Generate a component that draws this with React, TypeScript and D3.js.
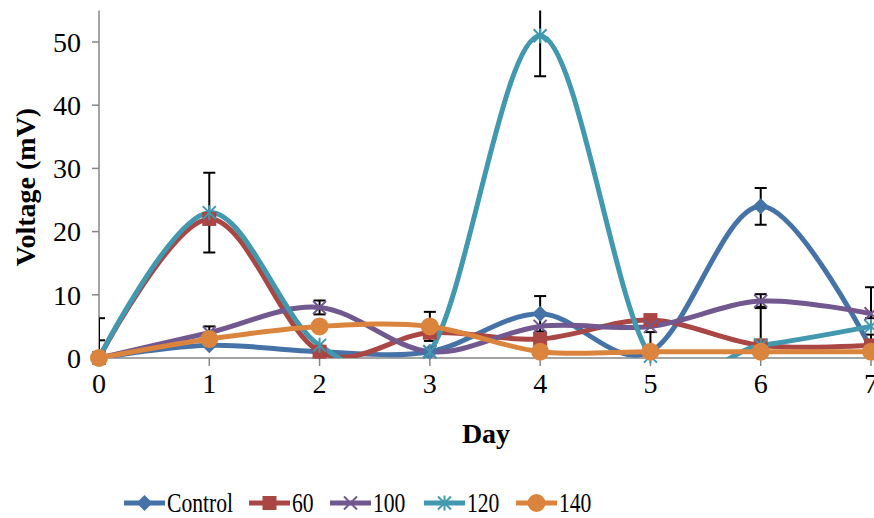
import React from "react";
import * as d3 from "d3";

const days = [0, 1, 2, 3, 4, 5, 6, 7];
const seriesNames = ["Control", "60", "100", "120", "140"];
const controlValues = [0, 2, 1, 1, 7, 1, 24, 1.5];
const v60Values = [0, 22, 1, 4, 3, 6, 2, 2];
const v100Values = [0, 4, 8, 1, 5, 5, 9, 7];
const v120Values = [0, 23, 2, 1, 51, 0.3, 2, 5];
const v140Values = [0, 3, 5, 5, 1, 1, 1, 1];
const controlErr = [6.3, 0, 0, 0, 2.8, 3.1, 2.9, 0];
const v60Err = [2.8, 0, 0, 0, 0, 0, 6.1, 0];
const v100Err = [0, 1, 1.1, 0, 0, 0, 1.1, 4.2];
const v120Err = [0, 6.3, 0, 0, 6.4, 0, 0, 1.3];
const v140Err = [0, 0, 0, 2.3, 0, 0, 0, 0];
const yTicks = [0, 10, 20, 30, 40, 50];
const colors = ["#4572A7", "#AA4643", "#71588F", "#4198AF", "#DB843D"];
const markerTypes = ["diamond", "square", "x", "star", "circle"];

const allValues = [controlValues, v60Values, v100Values, v120Values, v140Values];
const allErr = [controlErr, v60Err, v100Err, v120Err, v140Err];

const W = 874;
const H = 518;
const left = 99;
const x = d3.scaleLinear().domain([0, 7]).range([left, 871]);
const y = d3.scaleLinear().domain([0, 50]).range([358, 42]);
const plotTop = y(55);
const plotBottom = y(0);

function Marker({ type, cx, cy, color }: { type: string; cx: number; cy: number; color: string }) {
  if (type === "diamond") {
    const s = 8;
    return <path d={`M${cx},${cy - s}L${cx + s},${cy}L${cx},${cy + s}L${cx - s},${cy}Z`} fill={color} />;
  }
  if (type === "square") {
    const s = 7;
    return <rect x={cx - s} y={cy - s} width={2 * s} height={2 * s} fill={color} />;
  }
  if (type === "x") {
    const s = 6.5;
    return (
      <path d={`M${cx - s},${cy - s}L${cx + s},${cy + s}M${cx - s},${cy + s}L${cx + s},${cy - s}`} stroke={color} strokeWidth={2} />
    );
  }
  if (type === "star") {
    const s = 6.5;
    return (
      <path
        d={`M${cx - s},${cy - s}L${cx + s},${cy + s}M${cx - s},${cy + s}L${cx + s},${cy - s}M${cx},${cy - s - 1}L${cx},${cy + s + 1}`}
        stroke={color}
        strokeWidth={2}
      />
    );
  }
  return <circle cx={cx} cy={cy} r={9} fill={color} />;
}

export default function App() {
  const line = d3
    .line<number>()
    .x((_, i) => x(days[i]))
    .y((d) => y(d))
    .curve(d3.curveCardinal.tension(0));

  const font = "'Liberation Serif', 'Times New Roman', serif";

  return (
    <svg width={W} height={H} style={{ position: "absolute", left: 0, top: 0, background: "#fff" }} fontFamily={font}>
      <defs>
        <clipPath id="plot">
          <rect x={left} y={plotTop} width={W - left} height={plotBottom - plotTop} />
        </clipPath>
      </defs>
      {/* axes */}
      <line x1={left} x2={left} y1={plotTop} y2={plotBottom} stroke="#868686" strokeWidth={1.5} />
      <line x1={left} x2={W} y1={plotBottom} y2={plotBottom} stroke="#868686" strokeWidth={1.5} />
      {yTicks.map((t) => (
        <g key={t}>
          <line x1={left - 7} x2={left} y1={y(t)} y2={y(t)} stroke="#868686" strokeWidth={1.5} />
          <text x={81} y={y(t)} dy="0.35em" textAnchor="end" fontSize={28}>
            {t}
          </text>
        </g>
      ))}
      {days.map((d) => (
        <g key={d}>
          <line x1={x(d)} x2={x(d)} y1={plotBottom} y2={plotBottom + 8} stroke="#868686" strokeWidth={1.5} />
          <text x={x(d)} y={393} textAnchor="middle" fontSize={28}>
            {d}
          </text>
        </g>
      ))}
      <text x={486} y={443} textAnchor="middle" fontSize={28} fontWeight="bold">
        Day
      </text>
      <text
        transform={`translate(35,187) rotate(-90)`}
        textAnchor="middle"
        fontSize={28}
        fontWeight="bold"
      >
        Voltage (mV)
      </text>
      {/* error bars */}
      <g clipPath="url(#plot)">
        {allErr.map((errs, si) =>
          errs.map((e, i) => {
            if (!e) return null;
            const v = allValues[si][i];
            const cx = x(days[i]);
            const y1 = y(v + e);
            const y2 = y(v - e);
            return (
              <g key={`${si}-${i}`} stroke="#000" strokeWidth={2}>
                <line x1={cx} x2={cx} y1={y1} y2={y2} />
                <line x1={cx - 6} x2={cx + 6} y1={y1} y2={y1} />
                <line x1={cx - 6} x2={cx + 6} y1={y2} y2={y2} />
              </g>
            );
          })
        )}
      </g>
      {/* lines */}
      <g clipPath="url(#plot)">
        {allValues.map((vals, si) => (
          <path key={si} d={line(vals) || ""} fill="none" stroke={colors[si]} strokeWidth={5} strokeLinejoin="round" />
        ))}
      </g>
      {/* markers */}
      {allValues.map((vals, si) =>
        vals.map((v, i) => (
          <Marker key={`${si}-${i}`} type={markerTypes[si]} cx={x(days[i])} cy={y(v)} color={colors[si]} />
        ))
      )}
      {/* legend */}
      {seriesNames.map((name, i) => {
        const starts = [124, 249, 330, 424, 516];
        const lx = starts[i];
        return (
          <g key={name}>
            <line x1={lx} x2={lx + 41} y1={503} y2={503} stroke={colors[i]} strokeWidth={5} />
            <Marker type={markerTypes[i]} cx={lx + 20.5} cy={503} color={colors[i]} />
            <text transform={`translate(${lx + 43},503) scale(0.8,1)`} dy="0.35em" fontSize={27}>
              {name}
            </text>
          </g>
        );
      })}
    </svg>
  );
}
